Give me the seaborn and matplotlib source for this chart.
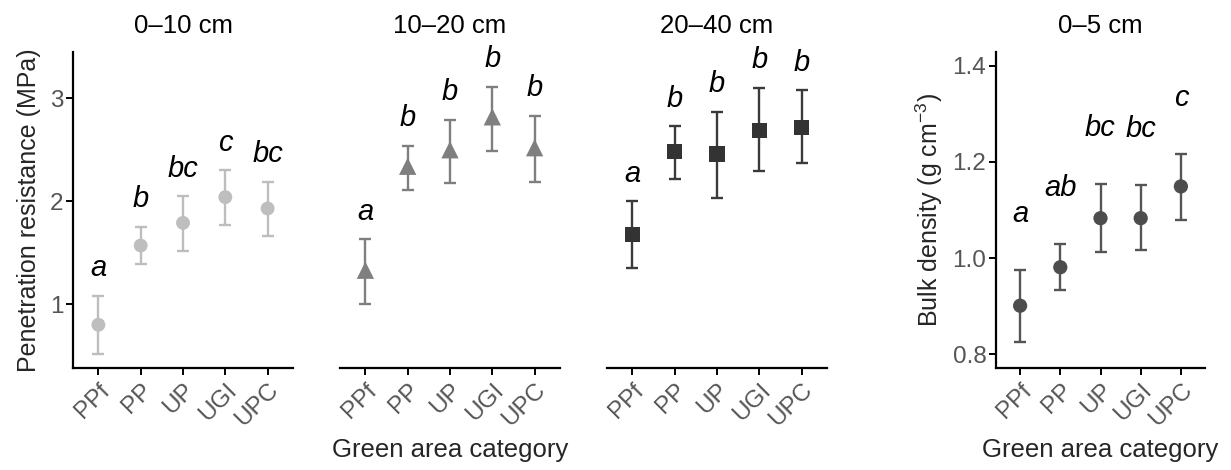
import matplotlib
matplotlib.use("Agg")
import matplotlib.pyplot as plt
import seaborn as sns
import pandas as pd
import numpy as np

# ---------------- data ----------------
categories = ["PPf", "PP", "UP", "UGI", "UPC"]

pr_0_10_mean = [0.80, 1.57, 1.79, 2.04, 1.93]
pr_0_10_low = [0.52, 1.39, 1.52, 1.77, 1.66]
pr_0_10_high = [1.08, 1.75, 2.05, 2.30, 2.19]
pr_0_10_letters = ["a", "b", "bc", "c", "bc"]

pr_10_20_mean = [1.33, 2.34, 2.50, 2.82, 2.52]
pr_10_20_low = [1.00, 2.11, 2.18, 2.49, 2.19]
pr_10_20_high = [1.63, 2.54, 2.79, 3.11, 2.83]
pr_10_20_letters = ["a", "b", "b", "b", "b"]

pr_20_40_mean = [1.68, 2.48, 2.46, 2.69, 2.72]
pr_20_40_low = [1.35, 2.22, 2.03, 2.29, 2.37]
pr_20_40_high = [2.00, 2.73, 2.87, 3.10, 3.08]
pr_20_40_letters = ["a", "b", "b", "b", "b"]

bd_0_5_mean = [0.901, 0.981, 1.083, 1.083, 1.149]
bd_0_5_low = [0.825, 0.934, 1.012, 1.017, 1.080]
bd_0_5_high = [0.976, 1.029, 1.154, 1.151, 1.216]
bd_0_5_letters = ["a", "ab", "bc", "bc", "c"]

pr_ticks = [1, 2, 3]
bd_ticks = [0.8, 1.0, 1.2, 1.4]
titles = ["0\u201310 cm", "10\u201320 cm", "20\u201340 cm", "0\u20135 cm"]
xlab = "Green area category"
ylab_pr = "Penetration resistance (MPa)"
ylab_bd = "Bulk density (g cm$^{-3}$)"

# ---------------- style ----------------
sns.set_theme(style="white")
plt.rcParams["font.family"] = ["Liberation Sans", "DejaVu Sans"]
plt.rcParams["mathtext.fontset"] = "custom"
plt.rcParams["mathtext.rm"] = "Liberation Sans"

W, H = 1231, 470
fig = plt.figure(figsize=(W / 100, H / 100), dpi=100)

def fa(x0, x1, y0, y1):
    return [x0 / W, 1 - y1 / H, (x1 - x0) / W, (y1 - y0) / H]

axes = [
    fig.add_axes(fa(73, 293, 52, 368)),
    fig.add_axes(fa(340, 560, 52, 368)),
    fig.add_axes(fa(607, 827, 52, 368)),
    fig.add_axes(fa(996, 1205, 52, 368)),
]

panels = [
    (pr_0_10_mean, pr_0_10_low, pr_0_10_high, pr_0_10_letters, "#BEBEBE", "#BDBDBD", "o", 100),
    (pr_10_20_mean, pr_10_20_low, pr_10_20_high, pr_10_20_letters, "#7F7F7F", "#7F7F7F", "^", 155),
    (pr_20_40_mean, pr_20_40_low, pr_20_40_high, pr_20_40_letters, "#333333", "#3A3A3A", "s", 120),
    (bd_0_5_mean, bd_0_5_low, bd_0_5_high, bd_0_5_letters, "#4D4D4D", "#555555", "o", 105),
]

tick_color = "#555555"
for i, (ax, (m, lo, hi, let, col, ecol, mk, sz)) in enumerate(zip(axes, panels)):
    df = pd.DataFrame({"cat": categories, "mean": m, "low": lo, "high": hi})
    xpos = np.arange(len(categories))
    ax.errorbar(xpos, df["mean"],
                yerr=[df["mean"] - df["low"], df["high"] - df["mean"]],
                fmt="none", ecolor=ecol, elinewidth=1.7, capsize=4, capthick=1.7, zorder=2)
    sns.scatterplot(data=df, x="cat", y="mean", ax=ax, color=col, marker=mk, s=sz,
                    edgecolor="none", linewidth=0, zorder=3, legend=False)
    off = 0.19 if i < 3 else 0.10
    for xi, h, t in zip(xpos, hi, let):
        ax.text(xi, h + off, t, ha="center", va="baseline", fontsize=21,
                style="italic", color="black")
    ax.set_xlim(-0.6, 4.6)
    if i < 3:
        ax.set_ylim(0.38, 3.45)
    else:
        ax.set_ylim(0.7715, 1.4285)
    ax.set_xticks(xpos)
    ax.set_xticklabels(categories, rotation=45, ha="right", rotation_mode="anchor",
                       fontsize=17.5, color=tick_color)
    ax.set_xlabel("")
    ax.set_ylabel("")
    ax.set_title(titles[i], fontsize=18.5, pad=14, color="black")
    for s in ["top", "right"]:
        ax.spines[s].set_visible(False)
    ax.spines["bottom"].set_color("black")
    ax.spines["bottom"].set_linewidth(1.6)
    ax.tick_params(axis="x", bottom=True, length=5, width=1.4, color="black", pad=3)
    if i in (1, 2):
        ax.spines["left"].set_visible(False)
        ax.set_yticks([])
    else:
        ax.spines["left"].set_color("black")
        ax.spines["left"].set_linewidth(1.6)
        ax.tick_params(axis="y", left=True, length=5, width=1.4, color="black",
                       labelsize=17.5, labelcolor=tick_color, pad=2)
    ax.grid(False)

axes[0].set_yticks(pr_ticks)
axes[0].set_yticklabels([str(t) for t in pr_ticks])
axes[3].set_yticks(bd_ticks)
axes[3].set_yticklabels([f"{t:.1f}" for t in bd_ticks])

axes[0].set_ylabel(ylab_pr, fontsize=18, labelpad=6)
axes[3].set_ylabel(ylab_bd, fontsize=18, labelpad=5)
axes[1].set_xlabel(xlab, fontsize=18.5, labelpad=5)
axes[3].set_xlabel(xlab, fontsize=18.5, labelpad=5)

fig.savefig("out.png", dpi=100, facecolor="white")
